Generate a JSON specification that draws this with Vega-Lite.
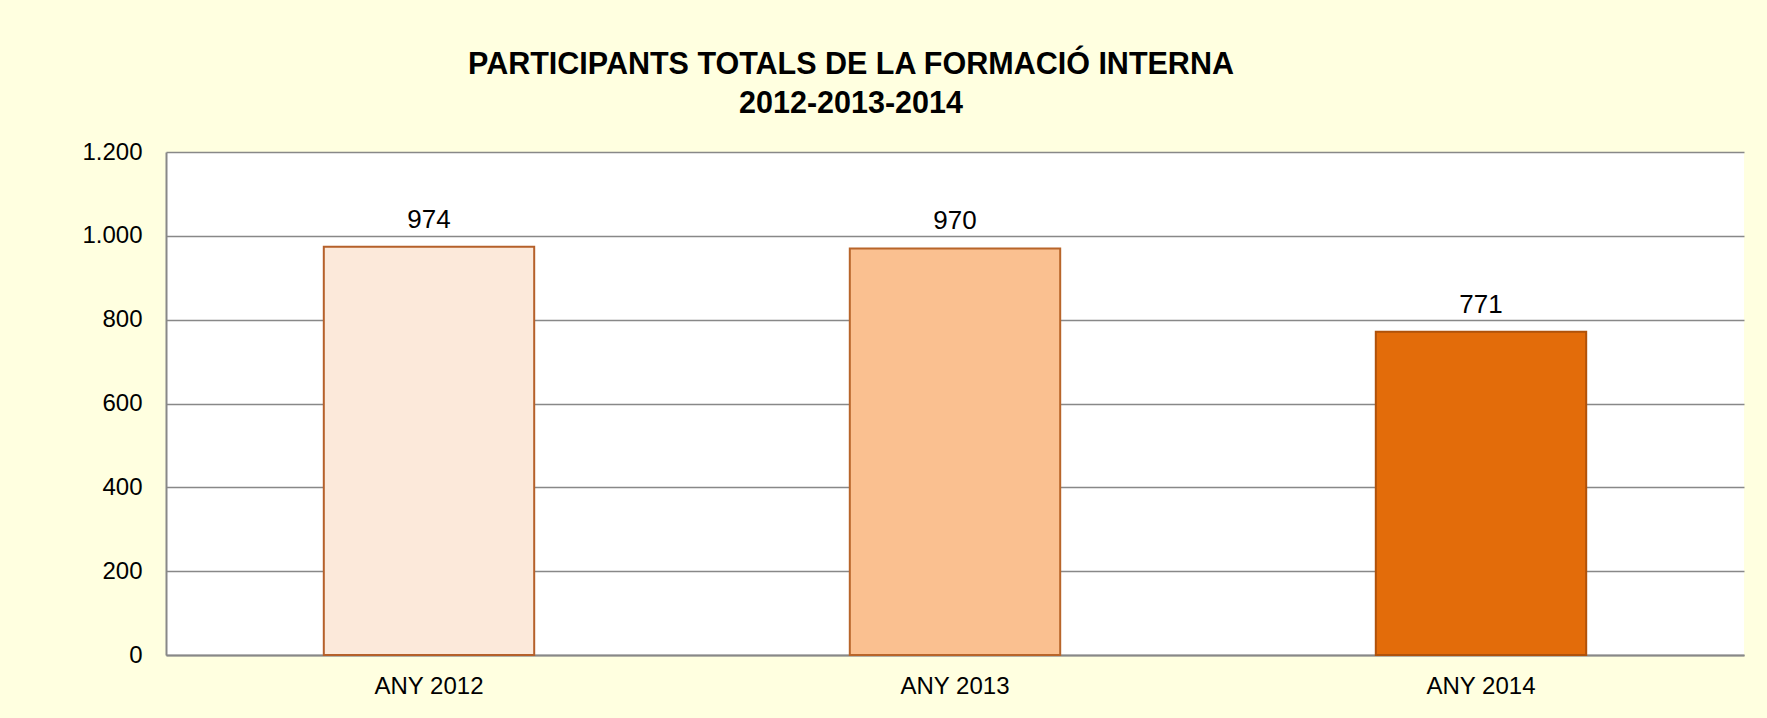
{
  "$schema": "https://vega.github.io/schema/vega-lite/v6.json",
  "autosize": {"type": "none"},
  "width": 1578,
  "height": 503,
  "padding": {"left": 166, "top": 152, "right": 23, "bottom": 63},
  "background": "#FFFFE0",
  "title": {
    "text": ["PARTICIPANTS TOTALS DE LA FORMACIÓ INTERNA", "2012-2013-2014"],
    "font": "Liberation Sans",
    "fontSize": 30.5,
    "fontWeight": "bold",
    "color": "#000000",
    "anchor": "middle",
    "frame": "group",
    "dx": -104,
    "lineHeight": 39,
    "offset": 21
  },
  "data": {
    "values": [
      {"any": "ANY 2012", "participants": 974},
      {"any": "ANY 2013", "participants": 970},
      {"any": "ANY 2014", "participants": 771}
    ]
  },
  "encoding": {
    "x": {
      "field": "any",
      "type": "nominal",
      "sort": null,
      "scale": {"paddingInner": 0.6, "paddingOuter": 0.3},
      "axis": {
        "title": null,
        "labelAngle": 0,
        "labelFont": "Liberation Sans",
        "labelFontSize": 24,
        "labelColor": "#000000",
        "labelPadding": 19,
        "ticks": false,
        "domainColor": "#888888",
        "domainWidth": 2
      }
    },
    "y": {
      "field": "participants",
      "type": "quantitative",
      "scale": {"domain": [0, 1200]},
      "axis": {
        "title": null,
        "values": [0, 200, 400, 600, 800, 1000, 1200],
        "labelExpr": "replace(format(datum.value, ','), ',', '.')",
        "labelFont": "Liberation Sans",
        "labelFontSize": 24,
        "labelColor": "#000000",
        "labelPadding": 24,
        "ticks": false,
        "domainColor": "#888888",
        "domainWidth": 2,
        "grid": true,
        "gridColor": "#888888",
        "gridWidth": 1.5
      }
    }
  },
  "layer": [
    {
      "mark": {"type": "bar", "strokeWidth": 2},
      "encoding": {
        "fill": {
          "field": "any",
          "type": "nominal",
          "scale": {"domain": ["ANY 2012", "ANY 2013", "ANY 2014"], "range": ["#FCE9DA", "#FAC090", "#E36C0A"]},
          "legend": null
        },
        "stroke": {
          "field": "any",
          "type": "nominal",
          "scale": {"domain": ["ANY 2012", "ANY 2013", "ANY 2014"], "range": ["#B5602A", "#B8652A", "#B0520A"]},
          "legend": null
        }
      }
    },
    {
      "mark": {"type": "text", "font": "Liberation Sans", "fontSize": 26, "color": "#000000", "baseline": "alphabetic", "dy": -19},
      "encoding": {
        "text": {"field": "participants", "type": "quantitative"}
      }
    }
  ],
  "config": {
    "view": {"fill": "#FFFFFF", "stroke": null}
  }
}
